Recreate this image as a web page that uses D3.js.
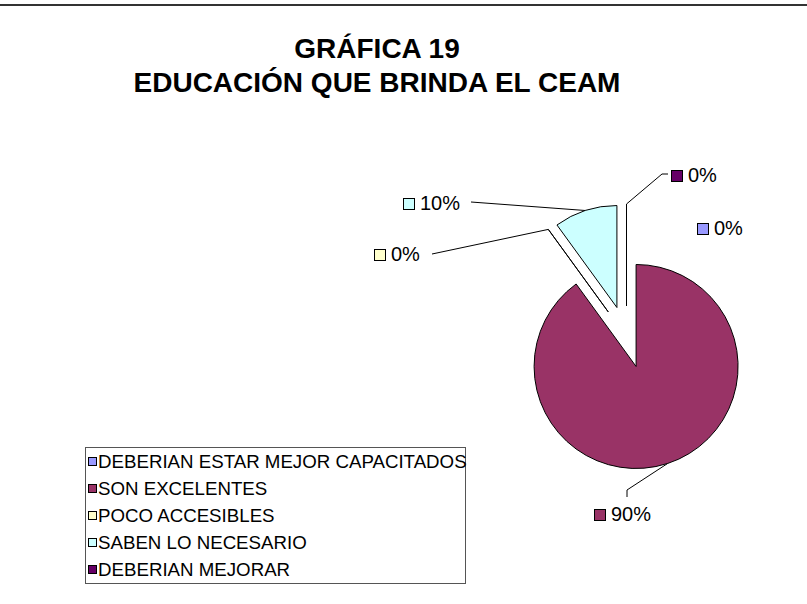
<!DOCTYPE html>
<html>
<head>
<meta charset="utf-8">
<script src="https://cdn.jsdelivr.net/npm/d3@7"></script>
<style>
  body { margin: 0; background: #ffffff; }
  svg { display: block; font-family: "Liberation Sans", Arial, sans-serif; }
</style>
</head>
<body>
<svg id="grafica" width="807" height="604"></svg>
<script>
// datos de la grafica
var categorias = ["DEBERIAN ESTAR MEJOR CAPACITADOS", "SON EXCELENTES", "POCO ACCESIBLES", "SABEN LO NECESARIO", "DEBERIAN MEJORAR"];
var valores = [0, 90, 0, 10, 0];
var etiquetas = ["0%", "90%", "0%", "10%", "0%"];
var colores = ["#9999ff", "#993366", "#ffffcc", "#ccffff", "#660066"];

// posicion de cada etiqueta (cuadro + texto) y codo de la linea guia
var posEtiquetas = [
    { x: 697, y: 235, guia: null },
    { x: 594, y: 521, guia: [[627, 497], [627, 490]] },
    { x: 374, y: 261, guia: [[432, 254]] },
    { x: 403, y: 210, guia: [[471, 202]] },
    { x: 671, y: 182, guia: [[668, 174], [662, 174]] }
];

var svg = d3.select("#grafica");
var centroX = 626.5, centroY = 337, radio = 102, separacion = 31;

// linea superior del marco
svg.append("line")
    .attr("x1", 0).attr("x2", 807)
    .attr("y1", 5).attr("y2", 5)
    .attr("stroke", "#333333")
    .attr("stroke-width", 2);

// titulo
svg.append("text")
    .attr("x", 377).attr("y", 58)
    .attr("text-anchor", "middle")
    .style("font-size", "28px").style("font-weight", "bold")
    .text("GRÁFICA 19");
svg.append("text")
    .attr("x", 377).attr("y", 92)
    .attr("text-anchor", "middle")
    .style("font-size", "28px").style("font-weight", "bold")
    .text("EDUCACIÓN QUE BRINDA EL CEAM");

var pie = d3.pie().sort(null).value(function(d) { return d; });
var arcos = pie(valores);
var arco = d3.arc().innerRadius(0).outerRadius(radio);

function medio(d) { return (d.startAngle + d.endAngle) / 2; }
function desplazamiento(d) {
    var a = medio(d);
    return [Math.sin(a) * separacion, -Math.cos(a) * separacion];
}

var torta = svg.append("g").attr("transform", "translate(" + centroX + "," + centroY + ")");

torta.selectAll("path.rebanada")
    .data(arcos)
    .enter().append("path")
    .attr("class", "rebanada")
    .attr("transform", function(d) {
        var o = desplazamiento(d);
        return "translate(" + o[0] + "," + o[1] + ")";
    })
    .attr("d", arco)
    .attr("fill", function(d, i) { return colores[i]; })
    .attr("stroke", "#000000")
    .attr("stroke-width", 1);

// lineas guia y etiquetas de porcentaje
arcos.forEach(function(d, i) {
    var p = posEtiquetas[i];
    if (p.guia) {
        var o = desplazamiento(d);
        var a = medio(d);
        var ancla = [centroX + o[0] + Math.sin(a) * radio, centroY + o[1] - Math.cos(a) * radio];
        var puntos = p.guia.concat([ancla]);
        svg.append("path")
            .attr("d", d3.line()(puntos))
            .attr("fill", "none")
            .attr("stroke", "#000000")
            .attr("stroke-width", 1);
    }
    svg.append("rect")
        .attr("x", p.x + 0.5).attr("y", p.y - 11.5)
        .attr("width", 11).attr("height", 11)
        .attr("fill", colores[i])
        .attr("stroke", "#000000")
        .attr("stroke-width", 1);
    svg.append("text")
        .attr("x", p.x + 17).attr("y", p.y)
        .style("font-size", "20px")
        .text(etiquetas[i]);
});

// leyenda
var leyenda = svg.append("g");
leyenda.append("rect")
    .attr("x", 85.5).attr("y", 447.5)
    .attr("width", 380).attr("height", 136)
    .attr("fill", "#ffffff")
    .attr("stroke", "#555555")
    .attr("stroke-width", 1);

var filas = leyenda.selectAll("g.fila")
    .data(categorias)
    .enter().append("g")
    .attr("class", "fila")
    .attr("transform", function(d, i) { return "translate(0," + (468 + i * 27) + ")"; });

filas.append("rect")
    .attr("x", 88.5).attr("y", -10.5)
    .attr("width", 8).attr("height", 8)
    .attr("fill", function(d, i) { return colores[i]; })
    .attr("stroke", "#000000")
    .attr("stroke-width", 1);

filas.append("text")
    .attr("x", 98).attr("y", 0)
    .style("font-size", "18.7px")
    .text(function(d) { return d; });
</script>
</body>
</html>
